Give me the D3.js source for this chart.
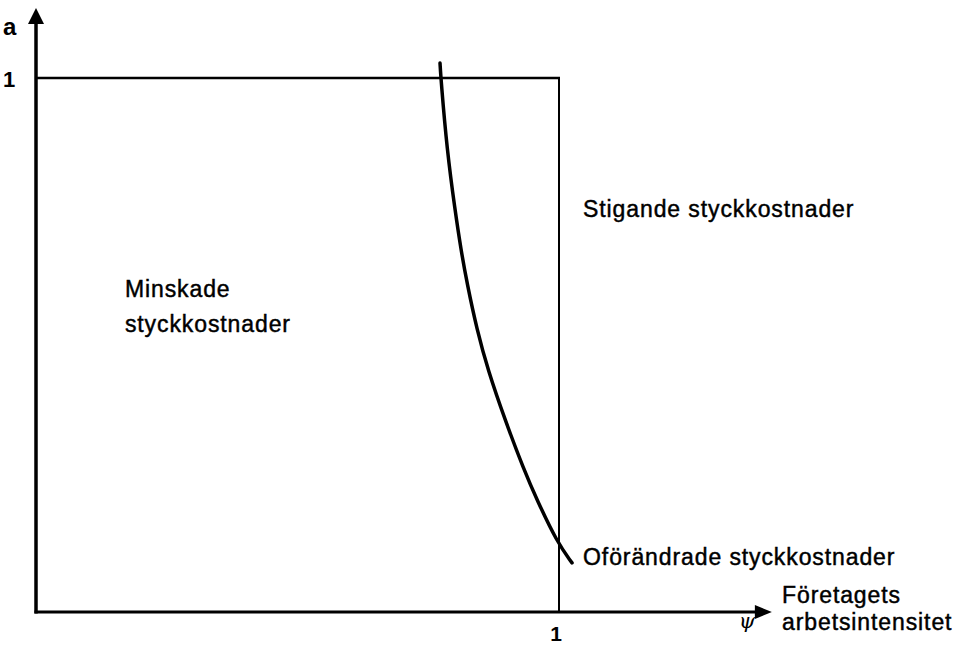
<!DOCTYPE html>
<html>
<head>
<meta charset="utf-8">
<script src="https://cdn.jsdelivr.net/npm/d3@7"></script>
<style>
	body { margin: 0; background: #fff; }
	svg text { font-family: "Liberation Sans", Arial, sans-serif; fill: #000; }
	svg text.lbl { stroke: #000; stroke-width: 0.45px; letter-spacing: 0.9px; }
</style>
</head>
<body>
<div id="chart"></div>
<script>
// curve (psi, a)
var curvePsi = [0.7725, 0.7744, 0.7859, 0.8011, 0.8126, 0.8241, 0.8432, 0.8642, 0.8967, 0.9331, 0.9579, 0.9962, 1.0249];
var curveA   = [1.028, 0.996, 0.865, 0.753, 0.678, 0.616, 0.528, 0.453, 0.360, 0.266, 0.210, 0.131, 0.092];

var xTicks = [1];
var yTicks = [1];
var xTickLabels = ["1"];
var yTickLabels = ["1"];

var regionLabels = [
	{ lines: ["Stigande styckkostnader"], psi: 1.046, a: 0.74 },
	{ lines: ["Minskade", "styckkostnader"], psi: 0.170, a: 0.590 },
	{ lines: ["Oförändrade styckkostnader"], psi: 1.046, a: 0.088 }
];
var xAxisTitle = ["Företagets", "arbetsintensitet"];
var yAxisTitle = "a";
var xSymbol = "ψ";

var width = 971, height = 646;
var svg = d3.select('#chart').append('svg')
	.attr('width', width).attr('height', height);

var x = d3.scaleLinear().domain([0, 1]).range([36, 559]);
var y = d3.scaleLinear().domain([0, 1]).range([612, 78]);

var xMax = 1.407, yMax = 1.131;

// axes
svg.append('line')
	.attr('x1', x(0)).attr('y1', y(0) + 1.5)
	.attr('x2', x(0)).attr('y2', y(yMax) + 10)
	.attr('stroke', '#000').attr('stroke-width', 3.5);
svg.append('line')
	.attr('x1', x(0) - 1.5).attr('y1', y(0))
	.attr('x2', x(xMax) - 10).attr('y2', y(0))
	.attr('stroke', '#000').attr('stroke-width', 3);

// arrow heads
svg.append('path')
	.attr('d', 'M' + x(0) + ',' + y(yMax) + 'L' + (x(0) - 8) + ',' + (y(yMax) + 16) + 'L' + (x(0) + 8) + ',' + (y(yMax) + 16) + 'Z')
	.attr('fill', '#000');
svg.append('path')
	.attr('d', 'M' + x(xMax) + ',' + y(0) + 'L' + (x(xMax) - 17) + ',' + (y(0) - 7) + 'L' + (x(xMax) - 17) + ',' + (y(0) + 7) + 'Z')
	.attr('fill', '#000');

// unit box
svg.append('line')
	.attr('x1', x(0)).attr('y1', y(1))
	.attr('x2', x(1) + 1).attr('y2', y(1))
	.attr('stroke', '#000').attr('stroke-width', 2.5);
svg.append('line')
	.attr('x1', x(1)).attr('y1', y(1) - 1)
	.attr('x2', x(1)).attr('y2', y(0))
	.attr('stroke', '#000').attr('stroke-width', 2);

// curve
var pts = curvePsi.map(function(d, i) { return [d, curveA[i]]; });
var line = d3.line()
	.x(function(d) { return x(d[0]); })
	.y(function(d) { return y(d[1]); })
	.curve(d3.curveBasis);
svg.append('path')
	.attr('d', line(pts))
	.attr('fill', 'none')
	.attr('stroke', '#000')
	.attr('stroke-width', 3.5)
	.attr('stroke-linecap', 'round');

// tick labels
svg.selectAll('text.xtick').data(xTicks).enter().append('text')
	.attr('class', 'xtick')
	.attr('x', function(d) { return x(d) - 3; })
	.attr('y', y(0) + 29)
	.attr('text-anchor', 'middle')
	.style('font-size', '21px').style('font-weight', 'bold')
	.text(function(d, i) { return xTickLabels[i]; });
svg.selectAll('text.ytick').data(yTicks).enter().append('text')
	.attr('class', 'ytick')
	.attr('x', 3)
	.attr('y', function(d) { return y(d) + 9; })
	.style('font-size', '22px').style('font-weight', 'bold')
	.text(function(d, i) { return yTickLabels[i]; });

// axis titles
svg.append('text')
	.attr('x', 3).attr('y', 35)
	.style('font-size', '24px').style('font-weight', 'bold')
	.text(yAxisTitle);
svg.append('text')
	.attr('x', 747).attr('y', 628)
	.attr('text-anchor', 'middle')
	.style('font-family', '"DejaVu Serif", serif')
	.style('font-style', 'italic')
	.style('font-size', '21px')
	.text(xSymbol);
svg.append('text')
	.attr('class', 'lbl')
	.attr('x', 782).attr('y', 603)
	.style('font-size', '23px')
	.selectAll('tspan').data(xAxisTitle).enter().append('tspan')
	.attr('x', 782)
	.attr('dy', function(d, i) { return i ? 27 : 0; })
	.text(function(d) { return d; });

// region labels
regionLabels.forEach(function(r) {
	var t = svg.append('text')
		.attr('class', 'lbl')
		.attr('x', x(r.psi)).attr('y', y(r.a))
		.style('font-size', '23px');
	t.selectAll('tspan').data(r.lines).enter().append('tspan')
		.attr('x', x(r.psi))
		.attr('dy', function(d, i) { return i ? 35 : 0; })
		.text(function(d) { return d; });
});
</script>
</body>
</html>
